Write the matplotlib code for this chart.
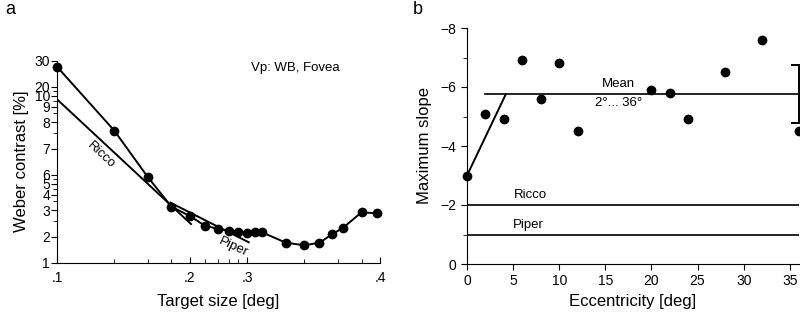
import numpy as np
import matplotlib
matplotlib.use("Agg")
from matplotlib import pyplot as plt
from matplotlib.ticker import LogLocator, NullFormatter, MultipleLocator

plt.rcParams['font.family'] = ['Liberation Sans', 'DejaVu Sans']

# panel a: threshold vs target size (log-log)
size_deg = [0.1, 0.2, 0.3, 0.4, 0.5, 0.6, 0.7, 0.8, 0.9, 1.0, 1.1, 1.2,
            1.6, 2.0, 2.4, 2.8, 3.2, 4.0, 4.8]
contrast = [170, 32, 9.5, 4.36, 3.42, 2.65, 2.45, 2.33, 2.23, 2.17, 2.23, 2.23,
            1.70, 1.59, 1.70, 2.12, 2.52, 3.77, 3.67]
ricco_x = [0.1, 0.507]
ricco_y = [72.5, 2.77]
piper_x = [0.395, 1.02]
piper_y = [4.85, 1.72]
a_xticks = [0.1, 0.5, 1, 5]
a_xticklabels = ['.1', '.2', '.3', '.4']
a_yticks = [1, 2, 4, 6, 8, 10, 20, 40, 60, 80, 100, 200]
a_yticklabels = ['1', '2', '3', '4', '5', '6', '7', '8', '9', '10', '20', '30']

# panel b: maximum slope vs eccentricity
ecc = [0, 2, 4, 6, 8, 10, 12, 20, 22, 24, 28, 32, 36]
slope = [-3.0, -5.1, -4.9, -6.9, -5.6, -6.81, -4.5, -5.9, -5.8, -4.9, -6.5, -7.6, -4.5]
mean_x = [2, 36]
mean_slope = -5.75
mean_sd = 0.98
rise_x = [0, 4.2]
rise_y = [-3.0, -5.75]
ricco_slope = -2
piper_slope = -1

fig = plt.figure(figsize=(8, 3.12), dpi=100)

# ---- a ----
ax = fig.add_axes([57/800, 1-263/312, (380-57)/800, (263-60.5)/312])
ax.set_xscale('log')
ax.set_yscale('log')
ax.plot(size_deg, contrast, '-o', color='black', lw=1.4, ms=6, clip_on=False, zorder=3)
ax.plot(ricco_x, ricco_y, color='black', lw=1.4)
ax.plot(piper_x, piper_y, color='black', lw=1.4)
ax.set_xlim(0.1, 5)
ax.set_ylim(1, 200)
ax.set_xticks(a_xticks, a_xticklabels)
ax.set_yticks(a_yticks, a_yticklabels)
ax.xaxis.set_minor_locator(LogLocator(base=10, subs=np.arange(2, 10)))
ax.xaxis.set_minor_formatter(NullFormatter())
ax.yaxis.set_minor_locator(LogLocator(base=10, subs=np.arange(2, 10)))
ax.yaxis.set_minor_formatter(NullFormatter())
for s in ['top', 'right']:
    ax.spines[s].set_visible(False)
ax.tick_params(axis='x', which='both', direction='in', labelsize=10, pad=6)
ax.tick_params(axis='y', which='both', direction='out', labelsize=10, pad=1)
ax.tick_params(which='major', length=4)
ax.tick_params(which='minor', length=3)
ax.set_xlabel('Target size [deg]', fontsize=12, labelpad=6)
ax.set_ylabel('Weber contrast [%]', fontsize=12, labelpad=4)
ax.text(0.17, 16.9, 'Ricco', rotation=-43, ha='center', va='center', fontsize=9.5)
ax.text(0.845, 1.52, 'Piper', rotation=-25, ha='center', va='center', fontsize=9.5)
ax.text(0.737, 0.965, 'Vp: WB, Fovea', transform=ax.transAxes, ha='center', va='center', fontsize=9.5)
fig.text(10/800, 1-10/312, 'a', ha='center', va='center', fontsize=13)

# ---- b ----
bx = fig.add_axes([467/800, 1-264/312, (799-467)/800, (264-28)/312])
bx.plot(ecc, slope, 'o', color='black', ms=6, clip_on=False, zorder=3)
bx.plot(rise_x, rise_y, color='black', lw=1.4)
bx.plot(mean_x, [mean_slope, mean_slope], color='black', lw=1.2)
bx.axhline(ricco_slope, color='black', lw=1.2)
bx.axhline(piper_slope, color='black', lw=1.2)
bx.errorbar([36], [mean_slope], yerr=[mean_sd], color='black', lw=1.4, capsize=6,
            capthick=1.4, clip_on=False)
bx.set_xlim(0, 36)
bx.set_ylim(0, -8)
bx.set_xticks([0, 5, 10, 15, 20, 25, 30, 35])
bx.set_yticks([0, -2, -4, -6, -8], ['0', '\u22122', '\u22124', '\u22126', '\u22128'])
bx.yaxis.set_minor_locator(MultipleLocator(1))
for s in ['top', 'right']:
    bx.spines[s].set_visible(False)
bx.tick_params(which='both', direction='out', labelsize=10)
bx.tick_params(which='major', length=4)
bx.tick_params(which='minor', length=3)
bx.set_xlabel('Eccentricity [deg]', fontsize=12, labelpad=4)
bx.set_ylabel('Maximum slope', fontsize=12, labelpad=6)
bx.text(6.9, -2.34, 'Ricco', ha='center', va='center', fontsize=9.5)
bx.text(6.6, -1.32, 'Piper', ha='center', va='center', fontsize=9.5)
bx.text(16.4, -6.09, 'Mean', ha='center', va='center', fontsize=9.5)
bx.text(16.4, -5.47, '2\u00b0... 36\u00b0', ha='center', va='center', fontsize=9.5)
fig.text(418/800, 1-10/312, 'b', ha='center', va='center', fontsize=13)

fig.savefig('out.png', dpi=100)
